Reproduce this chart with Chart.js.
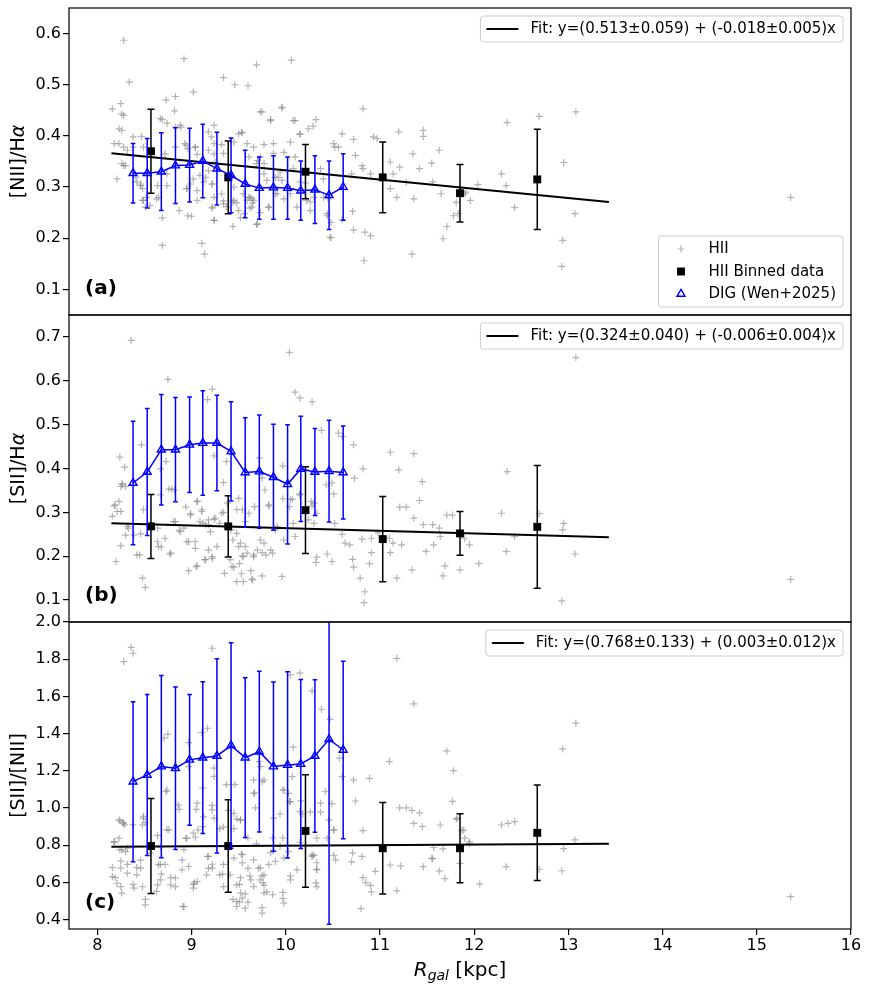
<!DOCTYPE html>
<html>
<head>
<meta charset="utf-8">
<script src="https://cdn.jsdelivr.net/npm/chart.js@4.4.1/dist/chart.umd.min.js"></script>
<style>
  body { margin: 0; background: #fff; }
  #wrap { position: relative; width: 870px; height: 992px; overflow: hidden; }
  canvas { position: absolute; left: 0; }
</style>
</head>
<body>
<div id="wrap">
  <canvas id="panelA" width="870" height="339" style="top:-8px"></canvas>
  <canvas id="panelB" width="870" height="339" style="top:299px"></canvas>
  <canvas id="panelC" width="870" height="386" style="top:606px"></canvas>
</div>
<script>
// ---- axes
var xMin = 7.7, xMax = 16;
var xTicks = [8, 9, 10, 11, 12, 13, 14, 15, 16];
var yTicksA = [0.1, 0.2, 0.3, 0.4, 0.5, 0.6];
var yTicksB = [0.1, 0.2, 0.3, 0.4, 0.5, 0.6, 0.7];
var yTicksC = [0.4, 0.6, 0.8, 1.0, 1.2, 1.4, 1.6, 1.8, 2.0];

// ---- binned HII data (shared radii)
var binX = [8.57, 9.39, 10.21, 11.03, 11.85, 12.67];
var binYA = [0.370, 0.319, 0.330, 0.319, 0.288, 0.315];
var binErrA = [0.082, 0.071, 0.053, 0.069, 0.056, 0.098];
var binYB = [0.268, 0.268, 0.305, 0.239, 0.252, 0.267];
var binErrB = [0.073, 0.070, 0.099, 0.097, 0.050, 0.140];
var binYC = [0.796, 0.796, 0.877, 0.784, 0.784, 0.867];
var binErrC = [0.255, 0.249, 0.302, 0.246, 0.185, 0.257];

// ---- DIG (Wen+2025)
var digX = [8.38, 8.53, 8.68, 8.83, 8.98, 9.12, 9.27, 9.42, 9.57, 9.72, 9.87, 10.02, 10.16, 10.31, 10.46, 10.61];
var digYA = [0.327, 0.327, 0.330, 0.342, 0.343, 0.351, 0.336, 0.323, 0.306, 0.298, 0.299, 0.298, 0.293, 0.295, 0.284, 0.300];
var digErrA = [0.058, 0.068, 0.076, 0.074, 0.072, 0.072, 0.071, 0.073, 0.066, 0.061, 0.062, 0.061, 0.058, 0.066, 0.067, 0.065];
var digYB = [0.367, 0.392, 0.443, 0.443, 0.454, 0.458, 0.458, 0.439, 0.391, 0.393, 0.380, 0.364, 0.399, 0.392, 0.394, 0.391];
var digErrB = [0.141, 0.145, 0.126, 0.119, 0.109, 0.119, 0.109, 0.113, 0.125, 0.129, 0.121, 0.136, 0.120, 0.099, 0.116, 0.106];
var digYC = [1.142, 1.178, 1.223, 1.214, 1.259, 1.271, 1.280, 1.336, 1.271, 1.303, 1.223, 1.232, 1.237, 1.280, 1.370, 1.312];
var digErrC = [0.430, 0.433, 0.490, 0.437, 0.352, 0.408, 0.522, 0.552, 0.429, 0.432, 0.455, 0.501, 0.454, 0.410, 0.995, 0.477];

// ---- linear fits (end points)
var fitX = [8.15, 13.43];
var fitYA = [0.366, 0.271];
var fitYB = [0.275, 0.243];
var fitYC = [0.792, 0.808];
var fitLabelA = 'Fit: y=(0.513\u00b10.059) + (-0.018\u00b10.005)x';
var fitLabelB = 'Fit: y=(0.324\u00b10.040) + (-0.006\u00b10.004)x';
var fitLabelC = 'Fit: y=(0.768\u00b10.133) + (0.003\u00b10.012)x';

// ---- individual HII regions, panel (a)
var hiiXA = [8.28, 8.34, 8.16, 8.25, 8.26, 8.28, 8.23, 8.26, 8.18, 8.23,
  8.26, 8.28, 8.21, 8.38, 8.38, 8.47, 8.49, 8.46, 8.48, 8.52,
  8.56, 8.51, 8.67, 8.69, 8.73, 8.83, 8.82, 8.92, 9.02, 8.74,
  8.89, 8.93, 8.96, 9.04, 9.06, 9.02, 8.95, 8.96, 9.00, 8.87,
  8.69, 8.69, 8.65, 8.64, 8.74, 9.11, 9.14, 9.18, 9.24, 9.21,
  9.24, 9.34, 9.46, 9.60, 9.69, 10.06, 9.96, 9.73, 9.84, 10.10,
  10.15, 10.24, 10.29, 10.32, 9.54, 9.45, 9.32, 9.34, 9.24, 9.25,
  9.18, 9.22, 9.13, 9.09, 9.24, 9.22, 9.24, 9.34, 9.37, 9.44,
  9.48, 9.52, 9.44, 9.56, 9.61, 9.64, 9.65, 9.62, 9.69, 9.73,
  9.82, 9.89, 9.77, 9.80, 9.87, 9.77, 9.66, 9.61, 9.69, 9.73,
  9.87, 9.98, 10.05, 10.10, 10.08, 9.94, 9.92, 10.15, 10.21, 10.05,
  10.22, 10.30, 10.26, 10.37, 10.40, 10.45, 10.44, 10.48, 10.48, 10.51,
  10.52, 10.56, 10.60, 10.72, 10.82, 10.93, 10.97, 10.74, 10.70, 10.81,
  10.82, 10.90, 11.11, 11.14, 11.20, 11.21, 11.35, 11.42, 11.46, 11.46,
  11.55, 11.63, 11.11, 11.18, 11.36, 11.28, 11.56, 10.71, 10.72, 10.84,
  10.90, 10.83, 11.34, 11.67, 11.71, 11.78, 11.83, 11.90, 11.96, 12.04,
  11.65, 10.60, 11.81, 12.29, 12.34, 12.35, 12.69, 13.08, 12.95, 12.43,
  13.07, 12.94, 12.93, 15.36, 11.91,
  8.28, 8.32, 8.30, 8.41, 8.46, 8.48, 8.42, 8.49, 8.63, 8.74,
  8.72, 8.83, 8.99, 8.95, 8.94, 9.04, 9.06, 9.06, 9.15, 9.18,
  9.22, 9.22, 9.24, 9.32, 9.34, 9.43, 9.45, 9.45, 9.50, 9.55,
  9.59, 9.62, 9.64, 9.66, 9.70, 9.70, 9.77, 9.82, 9.89, 9.91,
  9.96, 9.98, 10.05, 10.12, 10.26, 10.40, 10.47, 10.44, 9.50, 9.53,
  9.59, 9.75, 9.84, 9.96, 10.08, 10.15, 8.83, 8.88];
var hiiYA = [0.587, 0.505, 0.453, 0.463, 0.443, 0.440, 0.414, 0.411, 0.385, 0.385,
  0.346, 0.342, 0.316, 0.398, 0.378, 0.399, 0.378, 0.303, 0.274, 0.280,
  0.264, 0.261, 0.434, 0.432, 0.470, 0.477, 0.449, 0.551, 0.486, 0.425,
  0.417, 0.385, 0.375, 0.378, 0.364, 0.316, 0.297, 0.244, 0.243, 0.254,
  0.240, 0.186, 0.280, 0.303, 0.303, 0.190, 0.169, 0.408, 0.421, 0.398,
  0.385, 0.514, 0.500, 0.498, 0.539, 0.548, 0.455, 0.447, 0.432, 0.430,
  0.403, 0.414, 0.419, 0.432, 0.406, 0.388, 0.383, 0.366, 0.365, 0.349,
  0.372, 0.306, 0.310, 0.323, 0.280, 0.259, 0.235, 0.273, 0.262, 0.271,
  0.269, 0.240, 0.223, 0.248, 0.280, 0.277, 0.269, 0.259, 0.227, 0.250,
  0.261, 0.287, 0.326, 0.313, 0.385, 0.383, 0.378, 0.359, 0.346, 0.359,
  0.366, 0.368, 0.388, 0.359, 0.336, 0.329, 0.319, 0.310, 0.308, 0.287,
  0.274, 0.280, 0.271, 0.336, 0.316, 0.277, 0.244, 0.231, 0.201, 0.385,
  0.378, 0.378, 0.404, 0.393, 0.453, 0.398, 0.395, 0.362, 0.326, 0.342,
  0.336, 0.326, 0.349, 0.326, 0.408, 0.339, 0.365, 0.336, 0.411, 0.399,
  0.347, 0.372, 0.297, 0.280, 0.277, 0.310, 0.310, 0.253, 0.216, 0.212,
  0.205, 0.156, 0.169, 0.199, 0.223, 0.244, 0.248, 0.287, 0.274, 0.305,
  0.287, 0.236, 0.270, 0.326, 0.303, 0.426, 0.438, 0.447, 0.348, 0.260,
  0.248, 0.196, 0.145, 0.280, 0.290,
  0.378, 0.372, 0.342, 0.319, 0.306, 0.297, 0.310, 0.274, 0.277, 0.326,
  0.365, 0.378, 0.306, 0.297, 0.382, 0.378, 0.293, 0.274, 0.319, 0.332,
  0.306, 0.261, 0.235, 0.287, 0.267, 0.319, 0.300, 0.274, 0.254, 0.287,
  0.274, 0.280, 0.261, 0.274, 0.228, 0.352, 0.346, 0.261, 0.319, 0.287,
  0.313, 0.277, 0.297, 0.261, 0.254, 0.280, 0.202, 0.248, 0.404, 0.407,
  0.385, 0.447, 0.430, 0.456, 0.430, 0.404, 0.417, 0.421];

// ---- panel (b)
var hiiXB = [8.36, 8.75, 10.04, 9.22, 9.17, 10.10, 10.15, 10.28, 10.38, 10.56,
  10.60, 10.72, 10.73, 10.82, 11.11, 11.20, 11.36, 11.45, 11.42, 11.21,
  11.28, 11.36, 11.46, 11.56, 11.63, 11.64, 11.71, 11.77, 11.57, 11.49,
  11.69, 11.67, 11.85, 11.95, 12.05, 8.47, 8.24, 8.29, 8.26, 8.25,
  8.30, 8.18, 8.23, 8.25, 8.16, 8.25, 8.20, 8.33, 8.46, 8.45,
  8.48, 8.51, 8.49, 8.64, 8.68, 8.72, 8.77, 8.64, 8.67, 8.73,
  8.67, 8.76, 8.82, 8.81, 8.87, 8.92, 8.94, 8.97, 9.04, 9.04,
  8.97, 9.06, 8.99, 9.06, 9.11, 9.12, 9.18, 9.24, 9.18, 9.14,
  9.22, 9.24, 9.34, 9.37, 9.34, 9.38, 9.42, 9.44, 9.45, 9.35,
  9.52, 9.54, 9.51, 9.53, 9.48, 9.55, 9.63, 9.64, 9.75, 9.66,
  9.57, 9.54, 9.50, 9.61, 9.67, 9.72, 9.75, 9.78, 9.82, 9.73,
  9.77, 9.84, 9.75, 9.89, 9.98, 9.96, 9.97, 9.97, 10.07, 10.04,
  10.08, 10.15, 10.28, 10.30, 10.30, 10.33, 10.32, 10.44, 10.49, 10.43,
  10.51, 10.49, 10.52, 10.63, 10.68, 10.60, 10.71, 10.72, 10.81, 10.79,
  10.84, 10.83, 10.89, 10.91, 10.91, 10.98, 11.11, 11.14, 11.23, 11.18,
  11.34, 11.10, 13.08, 12.35, 12.29, 12.69, 12.95, 12.94, 13.07, 12.93,
  15.36, 12.34, 12.43, 11.90,
  8.83, 8.88, 8.99, 9.11, 9.09, 9.15, 9.18, 9.20, 9.25, 9.30,
  9.32, 9.48, 9.48, 9.50, 9.57, 9.59, 9.55, 9.66, 9.70, 9.79,
  9.86, 9.91, 10.10, 9.65, 9.41, 9.43, 9.15, 9.22, 9.05, 8.95,
  8.78, 8.65, 8.42, 8.39, 8.32, 8.30, 8.21, 8.19, 8.27, 9.06,
  8.79, 9.82, 10.05, 10.15, 10.24, 10.27, 10.33, 9.27];
var hiiYB = [0.692, 0.603, 0.665, 0.581, 0.557, 0.574, 0.561, 0.552, 0.487, 0.481,
  0.473, 0.454, 0.378, 0.399, 0.437, 0.397, 0.434, 0.370, 0.327, 0.312,
  0.312, 0.287, 0.272, 0.272, 0.264, 0.245, 0.294, 0.294, 0.226, 0.211,
  0.178, 0.155, 0.169, 0.226, 0.183, 0.454, 0.426, 0.403, 0.365, 0.359,
  0.359, 0.315, 0.325, 0.302, 0.291, 0.224, 0.188, 0.264, 0.251, 0.203,
  0.150, 0.129, 0.306, 0.233, 0.221, 0.241, 0.205, 0.264, 0.340, 0.416,
  0.399, 0.353, 0.351, 0.279, 0.259, 0.264, 0.312, 0.233, 0.233, 0.218,
  0.167, 0.178, 0.297, 0.325, 0.306, 0.275, 0.272, 0.284, 0.214, 0.192,
  0.195, 0.429, 0.368, 0.416, 0.300, 0.321, 0.260, 0.237, 0.175, 0.161,
  0.230, 0.201, 0.183, 0.160, 0.142, 0.142, 0.167, 0.148, 0.155, 0.199,
  0.279, 0.306, 0.332, 0.298, 0.313, 0.424, 0.378, 0.351, 0.315, 0.237,
  0.230, 0.214, 0.208, 0.260, 0.237, 0.154, 0.406, 0.331, 0.330, 0.313,
  0.275, 0.342, 0.315, 0.275, 0.321, 0.198, 0.186, 0.205, 0.188, 0.363,
  0.342, 0.367, 0.275, 0.230, 0.226, 0.250, 0.193, 0.175, 0.239, 0.150,
  0.119, 0.094, 0.183, 0.241, 0.208, 0.253, 0.208, 0.230, 0.226, 0.150,
  0.169, 0.241, 0.653, 0.393, 0.298, 0.297, 0.275, 0.260, 0.205, 0.098,
  0.147, 0.211, 0.245, 0.241,
  0.279, 0.256, 0.294, 0.302, 0.279, 0.271, 0.283, 0.256, 0.287, 0.275,
  0.298, 0.306, 0.252, 0.222, 0.222, 0.207, 0.199, 0.203, 0.214, 0.203,
  0.207, 0.268, 0.245, 0.146, 0.192, 0.176, 0.192, 0.199, 0.176, 0.233,
  0.207, 0.222, 0.203, 0.248, 0.268, 0.248, 0.302, 0.317, 0.363, 0.325,
  0.353, 0.317, 0.329, 0.340, 0.283, 0.325, 0.298, 0.222];

// ---- panel (c)
var hiiXC = [8.36, 8.38, 8.28, 9.22, 11.18, 11.36, 11.71, 11.78, 11.10, 10.15,
  10.05, 10.28, 10.38, 10.47, 10.57, 10.60, 10.72, 10.74, 10.89, 10.82,
  10.08, 10.07, 9.97, 10.03, 10.04, 9.94, 10.16, 10.18, 10.26, 10.37,
  10.42, 10.49, 10.46, 10.51, 10.33, 10.30, 10.33, 10.33, 10.44, 10.51,
  10.32, 10.70, 10.81, 10.71, 10.82, 10.85, 10.90, 10.91, 10.80, 10.95,
  11.11, 11.22, 11.18, 11.21, 11.28, 11.34, 11.42, 11.36, 11.45, 11.57,
  11.67, 11.56, 11.46, 11.63, 11.69, 11.77, 11.82, 11.89, 11.95, 8.18,
  8.23, 8.24, 8.30, 8.27, 8.24, 8.29, 8.38, 8.49, 8.51, 8.16,
  8.19, 8.25, 8.25, 8.38, 8.32, 8.42, 8.46, 8.48, 8.51, 8.56,
  8.64, 8.67, 8.67, 8.68, 8.74, 8.73, 8.71, 8.75, 8.64, 8.72,
  8.78, 8.83, 8.87, 8.90, 8.92, 8.95, 8.97, 8.97, 8.91, 9.02,
  9.03, 9.04, 9.05, 9.12, 9.13, 9.12, 9.11, 9.17, 9.17, 9.18,
  9.22, 9.22, 9.24, 9.24, 9.24, 9.30, 9.34, 9.34, 9.33, 9.37,
  9.39, 9.45, 9.48, 9.46, 9.52, 9.53, 9.54, 9.52, 9.51, 9.44,
  9.48, 9.51, 9.60, 9.57, 9.60, 9.60, 9.62, 9.66, 9.67, 9.68,
  9.69, 9.72, 9.73, 9.73, 9.75, 9.75, 9.76, 9.77, 9.75, 9.80,
  9.82, 9.84, 9.87, 9.94, 9.97, 9.97, 9.97, 9.87, 9.86, 10.05,
  10.03, 10.15, 10.28, 13.08, 12.94, 11.81, 11.64, 12.29, 12.36, 12.43,
  11.87, 11.90, 11.95, 13.07, 12.95, 11.55, 11.85, 12.06, 12.34, 12.69,
  12.93, 15.36,
  8.23, 8.28, 8.18, 8.26, 8.32, 8.25, 8.32, 8.16, 8.21, 8.26,
  8.39, 8.46, 8.42, 8.49, 8.48, 8.63, 8.67, 8.78, 8.83, 8.65,
  8.90, 8.97, 9.06, 9.02, 8.94, 9.02, 9.07, 8.76, 9.18, 9.22,
  9.16, 9.30, 9.41, 9.34, 9.45, 9.54, 9.48, 9.52, 9.54, 9.63,
  9.66, 9.73, 9.77, 9.86, 9.71, 9.77, 9.66, 9.89, 9.98, 10.05,
  10.12, 10.28, 10.33, 10.33, 9.98, 8.92, 9.48, 9.57, 9.75, 8.51,
  8.74, 8.86, 9.06, 9.22, 9.45, 9.52, 9.66, 9.77, 9.98, 10.05,
  10.15, 10.37, 10.51, 10.53];
var hiiYC = [1.864, 1.832, 1.787, 1.859, 1.805, 1.560, 1.307, 1.201, 1.250, 1.725,
  1.716, 1.630, 1.531, 1.477, 1.268, 1.169, 1.151, 1.038, 1.160, 0.879,
  1.327, 1.169, 1.097, 1.079, 1.035, 0.968, 1.039, 0.968, 0.978, 0.978,
  1.089, 1.024, 0.935, 0.882, 0.838, 0.746, 0.706, 0.671, 0.838, 0.746,
  0.598, 0.711, 0.740, 0.758, 0.626, 0.598, 0.584, 0.549, 0.460, 0.660,
  0.694, 0.689, 0.555, 1.001, 1.001, 0.988, 0.974, 0.918, 0.901, 0.788,
  0.781, 0.728, 0.685, 0.662, 0.621, 1.036, 0.945, 0.882, 0.810, 0.816,
  0.838, 0.777, 0.766, 0.923, 0.932, 0.910, 0.910, 0.955, 0.921, 0.680,
  0.626, 0.715, 0.578, 0.590, 0.697, 0.680, 0.720, 0.577, 0.509, 0.758,
  0.853, 0.790, 0.697, 0.645, 0.883, 1.089, 1.376, 1.397, 0.587, 0.697,
  0.626, 0.624, 0.993, 0.720, 0.777, 0.838, 1.352, 1.223, 0.470, 0.590,
  0.598, 0.843, 0.993, 0.901, 0.953, 1.108, 1.406, 1.429, 0.740, 0.676,
  0.698, 1.014, 1.170, 0.946, 1.215, 0.889, 0.898, 0.697, 0.645, 1.126,
  0.988, 0.889, 0.942, 1.126, 0.937, 0.752, 0.705, 0.626, 0.590, 0.509,
  0.499, 0.494, 0.494, 0.539, 0.676, 0.839, 0.635, 1.151, 1.081, 1.001,
  0.808, 1.250, 1.223, 0.679, 1.142, 0.636, 0.598, 0.584, 0.465, 0.549,
  0.697, 0.760, 0.770, 0.795, 0.839, 0.547, 0.515, 0.946, 0.839, 0.636,
  0.766, 0.815, 0.748, 1.456, 1.318, 0.941, 0.909, 0.909, 0.918, 0.927,
  0.879, 0.838, 0.819, 0.829, 0.782, 0.730, 0.703, 0.592, 0.685, 0.671,
  0.663, 0.524,
  0.936, 0.918, 0.820, 0.775, 0.784, 0.677, 0.650, 0.632, 0.596, 0.543,
  0.570, 0.677, 0.641, 0.945, 0.909, 0.552, 0.614, 0.587, 0.578, 0.695,
  0.668, 0.686, 0.605, 0.570, 0.838, 0.865, 0.883, 0.883, 0.740, 0.677,
  0.641, 0.641, 0.641, 0.578, 0.731, 0.749, 0.587, 0.543, 0.516, 0.614,
  0.578, 0.614, 0.543, 0.534, 0.677, 0.641, 0.722, 0.713, 0.731, 0.614,
  0.668, 0.740, 0.668, 0.578, 0.489, 0.471, 0.471, 0.462, 0.435, 0.480,
  1.097, 1.017, 1.026, 0.990, 0.972, 0.936, 1.079, 1.151, 1.097, 1.035,
  0.981, 1.026, 0.883, 0.722];

var FONT = '"DejaVu Sans", "Liberation Sans", sans-serif';
Chart.defaults.font.family = FONT;
Chart.defaults.color = '#000';

function pts(xs, ys) {
  var out = [];
  for (var i = 0; i < Math.min(xs.length, ys.length); i++) out.push({x: xs[i], y: ys[i]});
  return out;
}

// text made of runs with different fonts (for mathtext-like labels)
function drawRuns(ctx, runs, cx, cy, rot) {
  ctx.save();
  ctx.translate(cx, cy);
  ctx.rotate(rot);
  var total = 0;
  runs.forEach(function (r) { ctx.font = r.font; r.w = ctx.measureText(r.t).width; total += r.w; });
  var x = -total / 2;
  ctx.fillStyle = '#000';
  ctx.textBaseline = 'alphabetic';
  ctx.textAlign = 'left';
  runs.forEach(function (r) { ctx.font = r.font; ctx.fillText(r.t, x, r.dy || 0); x += r.w; });
  ctx.restore();
}

function roundRect(ctx, x, y, w, h, r) {
  ctx.beginPath();
  ctx.moveTo(x + r, y);
  ctx.lineTo(x + w - r, y); ctx.quadraticCurveTo(x + w, y, x + w, y + r);
  ctx.lineTo(x + w, y + h - r); ctx.quadraticCurveTo(x + w, y + h, x + w - r, y + h);
  ctx.lineTo(x + r, y + h); ctx.quadraticCurveTo(x, y + h, x, y + h - r);
  ctx.lineTo(x, y + r); ctx.quadraticCurveTo(x, y, x + r, y);
  ctx.closePath();
}

function makePanel(id, cfg) {
  var decor = {
    id: 'decor',
    beforeDatasetDraw: function (chart, args) {
      var ds = chart.data.datasets[args.index];
      if (!ds.errY) return;
      var xs = chart.scales.x, ys = chart.scales.y, a = chart.chartArea, ctx = chart.ctx;
      ctx.save();
      ctx.beginPath();
      ctx.rect(a.left, a.top, a.right - a.left, a.bottom - a.top);
      ctx.clip();
      ctx.strokeStyle = ds.errColor;
      ctx.lineWidth = 1.5;
      ds.data.forEach(function (p, i) {
        var px = xs.getPixelForValue(p.x);
        var top = ys.getPixelForValue(p.y + ds.errY[i]);
        var bot = ys.getPixelForValue(p.y - ds.errY[i]);
        var c = ds.capHalf;
        ctx.beginPath();
        ctx.moveTo(px, top); ctx.lineTo(px, bot);
        ctx.moveTo(px - c, top); ctx.lineTo(px + c, top);
        ctx.moveTo(px - c, bot); ctx.lineTo(px + c, bot);
        ctx.stroke();
      });
      ctx.restore();
    },
    afterDatasetsDraw: function (chart) {
      var a = chart.chartArea, ctx = chart.ctx;
      ctx.save();
      ctx.strokeStyle = '#000';
      ctx.lineWidth = 1.2;
      ctx.strokeRect(a.left, a.top, a.right - a.left, a.bottom - a.top);
      ctx.font = 'bold 20px ' + FONT;
      ctx.fillStyle = '#000';
      ctx.textBaseline = 'middle';
      ctx.textAlign = 'left';
      ctx.fillText(cfg.tag, a.left + 16, a.bottom - 26);
      ctx.restore();
    },
    afterDraw: function (chart) {
      var a = chart.chartArea, ctx = chart.ctx;
      // axis titles
      drawRuns(ctx, cfg.yTitle, 24, (a.top + a.bottom) / 2, -Math.PI / 2);
      if (cfg.showX) {
        drawRuns(ctx, [
          {t: 'R', font: 'italic 20px ' + FONT},
          {t: 'gal', font: 'italic 14px ' + FONT, dy: 4},
          {t: ' [kpc]', font: '20px ' + FONT}
        ], (a.left + a.right) / 2, a.bottom + 47, 0);
      }
      // legends inside the axes
      cfg.legends.forEach(function (lg) {
        ctx.save();
        ctx.font = '15px ' + FONT;
        var items = lg.items.map(function (i) { return chart.data.datasets[i]; });
        var tw = 0;
        items.forEach(function (d) { tw = Math.max(tw, ctx.measureText(d.label).width); });
        var w = 50 + tw + 7, h = items.length * 22.5 + 3.5;
        var x0 = a.right - 8 - w;
        var y0 = lg.corner === 'tr' ? a.top + 8 : a.bottom - 8 - h;
        roundRect(ctx, x0, y0, w, h, 3);
        ctx.fillStyle = 'rgba(255,255,255,0.8)';
        ctx.fill();
        ctx.strokeStyle = '#cccccc';
        ctx.lineWidth = 1;
        ctx.stroke();
        items.forEach(function (d, k) {
          var cy = y0 + 13 + k * 22.5;
          if (d.pointRadius === 0) {
            ctx.strokeStyle = d.borderColor;
            ctx.lineWidth = d.borderWidth;
            ctx.beginPath();
            ctx.moveTo(x0 + 6, cy); ctx.lineTo(x0 + 38, cy);
            ctx.stroke();
          } else {
            ctx.fillStyle = d.pointBackgroundColor || d.backgroundColor || 'rgba(0,0,0,0)';
            ctx.strokeStyle = d.pointBorderColor || d.borderColor;
            var bw = d.pointBorderWidth !== undefined ? d.pointBorderWidth : d.borderWidth;
            ctx.lineWidth = bw;
            Chart.helpers.drawPoint(ctx, {pointStyle: d.pointStyle, radius: d.pointRadius, rotation: 0, borderWidth: bw}, x0 + 22.5, cy);
          }
          ctx.fillStyle = '#000';
          ctx.font = '15px ' + FONT;
          ctx.textBaseline = 'middle';
          ctx.textAlign = 'left';
          ctx.fillText(d.label, x0 + 50, cy + 0.5);
        });
        ctx.restore();
      });
    }
  };

  var datasets = [
    {label: cfg.fitLabel, data: pts(fitX, cfg.fitY), showLine: true, pointRadius: 0,
     borderColor: '#000', borderWidth: 2, order: 2},
    {label: 'HII', data: pts(cfg.hiiX, cfg.hiiY), pointStyle: 'cross', pointRadius: 3.5,
     borderColor: 'rgba(128,128,128,0.6)', backgroundColor: 'rgba(128,128,128,0.6)', borderWidth: 1.2, order: 4},
    {label: 'HII Binned data', data: pts(binX, cfg.binY), errY: cfg.binErr, errColor: '#000', capHalf: 3.5,
     pointStyle: 'rect', pointRadius: 5.6, backgroundColor: '#000', borderColor: '#000', borderWidth: 0, order: 3},
    {label: 'DIG (Wen+2025)', data: pts(digX, cfg.digY), errY: cfg.digErr, errColor: '#0000ff', capHalf: 2.3,
     showLine: true, tension: 0, borderColor: '#0000ff', borderWidth: 1.5,
     pointStyle: 'triangle', pointRadius: 4.6, pointBackgroundColor: 'rgba(255,255,255,0)',
     pointBorderColor: '#0000ff', pointBorderWidth: 1.4, order: 1}
  ];

  new Chart(document.getElementById(id), {
    type: 'scatter',
    data: {datasets: datasets},
    options: {
      responsive: false,
      animation: false,
      events: [],
      layout: {padding: {top: 16, bottom: cfg.showX ? 0 : 16, left: 0, right: 19}},
      plugins: {legend: {display: false}, tooltip: {enabled: false}},
      scales: {
        x: {
          type: 'linear', min: xMin, max: xMax, display: cfg.showX,
          afterBuildTicks: function (s) { s.ticks = xTicks.map(function (v) { return {value: v}; }); },
          afterFit: function (s) { s.height = cfg.showX ? 63 : 0; },
          grid: {display: true, drawOnChartArea: false, drawTicks: true, tickLength: 6, lineWidth: 1.2, color: '#000'},
          border: {display: false},
          ticks: {padding: 1, font: {size: 16}, color: '#000', maxRotation: 0,
                  callback: function (v) { return String(v); }}
        },
        y: {
          type: 'linear', min: cfg.yMin, max: cfg.yMax,
          afterBuildTicks: function (s) { s.ticks = cfg.yTicks.map(function (v) { return {value: v}; }); },
          afterFit: function (s) { s.width = 69; },
          grid: {display: true, drawOnChartArea: false, drawTicks: true, tickLength: 6, lineWidth: 1.2, color: '#000'},
          border: {display: false},
          ticks: {padding: 2, font: {size: 16}, color: '#000',
                  callback: function (v) { return Number(v).toFixed(1); }}
        }
      }
    },
    plugins: [decor]
  });
}

makePanel('panelA', {
  tag: '(a)', yMin: 0.05, yMax: 0.65, yTicks: yTicksA, showX: false,
  yTitle: [{t: '[NII]/H', font: '19px ' + FONT}, {t: '\u03b1', font: 'italic 19px ' + FONT}],
  fitLabel: fitLabelA, fitY: fitYA, hiiX: hiiXA, hiiY: hiiYA,
  binY: binYA, binErr: binErrA, digY: digYA, digErr: digErrA,
  legends: [{corner: 'tr', items: [0]}, {corner: 'br', items: [1, 2, 3]}]
});
makePanel('panelB', {
  tag: '(b)', yMin: 0.05, yMax: 0.75, yTicks: yTicksB, showX: false,
  yTitle: [{t: '[SII]/H', font: '19px ' + FONT}, {t: '\u03b1', font: 'italic 19px ' + FONT}],
  fitLabel: fitLabelB, fitY: fitYB, hiiX: hiiXB, hiiY: hiiYB,
  binY: binYB, binErr: binErrB, digY: digYB, digErr: digErrB,
  legends: [{corner: 'tr', items: [0]}]
});
makePanel('panelC', {
  tag: '(c)', yMin: 0.35, yMax: 2.0, yTicks: yTicksC, showX: true,
  yTitle: [{t: '[SII]/[NII]', font: '19px ' + FONT}],
  fitLabel: fitLabelC, fitY: fitYC, hiiX: hiiXC, hiiY: hiiYC,
  binY: binYC, binErr: binErrC, digY: digYC, digErr: digErrC,
  legends: [{corner: 'tr', items: [0]}]
});
</script>
</body>
</html>
